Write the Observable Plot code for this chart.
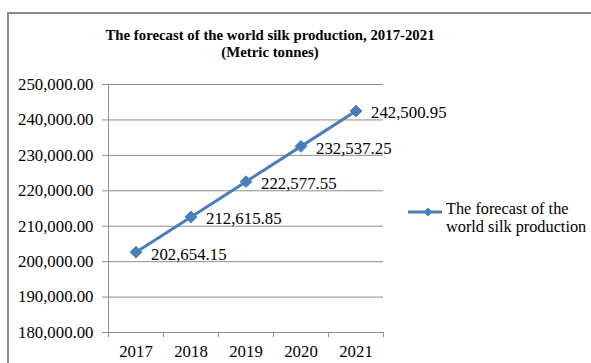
<!DOCTYPE html>
<html>
<head>
<meta charset="utf-8">
<script src="https://cdn.jsdelivr.net/npm/d3@7"></script>
<script src="https://cdn.jsdelivr.net/npm/@observablehq/plot@0.6"></script>
<style>
  html, body { margin: 0; padding: 0; background: #fff; }
  #wrap { position: relative; width: 591px; height: 363px; overflow: hidden; font-family: 'Liberation Serif'; }
  #wrap svg, #wrap svg text { font-family: 'Liberation Serif' !important; }
  #frame { position: absolute; left: 7px; top: 12px; width: 700px; height: 500px; border-top: 2px solid #8c8c8c; border-left: 2px solid #8c8c8c; box-sizing: border-box; }
  #title { position: absolute; left: 0; width: 540px; top: 27px; text-align: center; font-family: 'Liberation Serif'; font-weight: bold; font-size: 14.8px; line-height: 17px; color: #000; }
  #chart { position: absolute; left: 0; top: 0; }
  #legend { position: absolute; left: 407px; top: 200px; display: flex; align-items: flex-start; }
  #legend svg { margin-top: 4px; }
  #legend .lbl { font-family: 'Liberation Serif'; font-size: 16.3px; line-height: 18px; margin-left: 3px; color: #000; }
</style>
</head>
<body>
<div id="wrap">
  <div id="frame"></div>
  <div id="chart"></div>
  <div id="title">The forecast of the world silk production, 2017-2021<br>(Metric tonnes)</div>
  <div id="legend"></div>
</div>
<script>
const years = [2017, 2018, 2019, 2020, 2021];
const values = [202654.15, 212615.85, 222577.55, 232537.25, 242500.95];
const yTicks = [180000, 190000, 200000, 210000, 220000, 230000, 240000, 250000];
const seriesName = "The forecast of the world silk production";
const lineColor = "#4a7ebb";
const gridColor = "#8e8e8e";

const data = years.map((y, i) => ({year: y, value: values[i]}));
const bounds = [...years.map(y => y - 0.5), years[years.length - 1] + 0.5];
const fmt = d3.format(",.2f");

const chart = Plot.plot({
  width: 591,
  height: 363,
  marginTop: 84,
  marginBottom: 31,
  marginLeft: 108,
  marginRight: 208,
  style: {fontFamily: "'Liberation Serif'", fontSize: "16.8px", color: "#000", background: "transparent"},
  x: {domain: [bounds[0], bounds[bounds.length - 1]]},
  y: {domain: [yTicks[0], yTicks[yTicks.length - 1]]},
  marks: [
    Plot.ruleY(yTicks.slice(1), {stroke: gridColor, strokeWidth: 1}),
    Plot.ruleY([yTicks[0]], {stroke: gridColor, strokeWidth: 1}),
    Plot.ruleX([bounds[0]], {stroke: gridColor, strokeWidth: 1}),
    Plot.axisY({ticks: yTicks, tickFormat: fmt, tickSize: 6, tickPadding: 9, stroke: gridColor, label: null, fill: "#000", fontSize: 16.8}),
    Plot.axisX({ticks: bounds, tickFormat: () => "", tickSize: 5, stroke: gridColor, label: null}),
    Plot.axisX({ticks: years, tickFormat: d => String(d), tickSize: 0, tickPadding: 13, label: null, fill: "#000", fontSize: 16.8}),
    Plot.line(data, {x: "year", y: "value", stroke: lineColor, strokeWidth: 3}),
    Plot.dot(data, {x: "year", y: "value", symbol: "diamond2", r: 5.3, fill: lineColor, stroke: lineColor, strokeWidth: 1}),
    Plot.text(data, {x: "year", y: "value", text: d => fmt(d.value), textAnchor: "start", dx: 15, dy: 2, fill: "#000", fontSize: 16.8})
  ]
});
document.getElementById("chart").appendChild(chart);

// legend
const leg = document.getElementById("legend");
const ls = d3.create("svg").attr("width", 36).attr("height", 16);
ls.append("line").attr("x1", 1).attr("x2", 35).attr("y1", 8).attr("y2", 8).attr("stroke", lineColor).attr("stroke-width", 3);
ls.append("path").attr("d", d3.symbol(d3.symbolDiamond2, 50)()).attr("transform", "translate(21,8)").attr("fill", lineColor);
leg.appendChild(ls.node());
const lbl = document.createElement("div");
lbl.className = "lbl";
lbl.innerHTML = "The forecast of the<br>world silk production";
leg.appendChild(lbl);
</script>
</body>
</html>
